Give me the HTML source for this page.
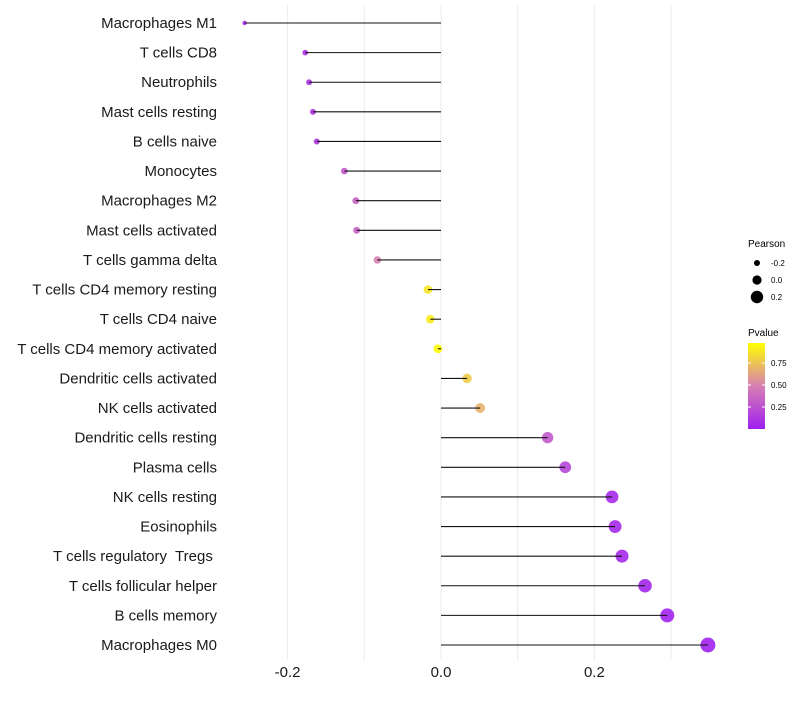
<!DOCTYPE html>
<html><head><meta charset="utf-8"><style>
body{margin:0;background:#fff;font-family:"Liberation Sans",sans-serif;}
svg text{font-family:"Liberation Sans",sans-serif;white-space:pre;}
</style></head><body>
<svg id="chart" width="800" height="700">
<defs><linearGradient id="pg" x1="0" y1="1" x2="0" y2="0">
<stop offset="0" stop-color="#A020F0"/><stop offset="0.5" stop-color="#D77FB3"/><stop offset="1" stop-color="#FFFF00"/>
</linearGradient></defs>
<g id="grid"></g><g id="pts"></g><g id="marks"></g><g id="labels"></g>
<g>
<text x="748" y="247" font-size="10">Pearson</text>
<circle cx="757" cy="263" r="3" fill="#000"/>
<text x="771" y="266" font-size="8">-0.2</text>
<circle cx="757" cy="280" r="4.6" fill="#000"/>
<text x="771" y="283" font-size="8">0.0</text>
<circle cx="757" cy="297" r="6.2" fill="#000"/>
<text x="771" y="300" font-size="8">0.2</text>
<text x="748" y="336" font-size="10">Pvalue</text>
<rect x="748" y="343" width="17" height="86" fill="url(#pg)"/>
<g stroke="#fff" stroke-width="1"><line x1="748" y1="363" x2="751" y2="363"/><line x1="762" y1="363" x2="765" y2="363"/><line x1="748" y1="385" x2="751" y2="385"/><line x1="762" y1="385" x2="765" y2="385"/><line x1="748" y1="407" x2="751" y2="407"/><line x1="762" y1="407" x2="765" y2="407"/></g>
<text x="771" y="366" font-size="8">0.75</text>
<text x="771" y="388" font-size="8">0.50</text>
<text x="771" y="410" font-size="8">0.25</text>
</g>
</svg>
<script>
const cells=["Macrophages M1","T cells CD8","Neutrophils","Mast cells resting","B cells naive","Monocytes","Macrophages M2","Mast cells activated","T cells gamma delta","T cells CD4 memory resting","T cells CD4 naive","T cells CD4 memory activated","Dendritic cells activated","NK cells activated","Dendritic cells resting","Plasma cells","NK cells resting","Eosinophils","T cells regulatory  Tregs ","T cells follicular helper","B cells memory","Macrophages M0"];
const pearson=[-0.256,-0.177,-0.172,-0.167,-0.162,-0.126,-0.111,-0.110,-0.083,-0.017,-0.014,-0.004,0.034,0.051,0.139,0.162,0.223,0.227,0.236,0.266,0.295,0.348];
const pvalue=[0.02,0.1,0.1,0.12,0.12,0.3,0.35,0.35,0.5,0.9,0.92,0.98,0.8,0.7,0.3,0.2,0.05,0.05,0.05,0.03,0.02,0.01];
const xTicks=[-0.2,0.0,0.2];
const xTickLabels=["-0.2","0.0","0.2"];
const xGrid=[-0.3,-0.2,-0.1,0,0.1,0.2,0.3];
const NS="http://www.w3.org/2000/svg";
const xs=v=>441+v*767;
const ys=i=>23+i*(622/(cells.length-1));
function mk(t,a,p){const e=document.createElementNS(NS,t);for(const k in a)e.setAttribute(k,a[k]);p.appendChild(e);return e;}
function hex(h){return[parseInt(h.slice(1,3),16),parseInt(h.slice(3,5),16),parseInt(h.slice(5,7),16)];}
const stops=[hex("#A020F0"),hex("#D77FB3"),hex("#FFFF00")];
function col(p){let t=Math.max(0,Math.min(1,p));let a,b,f;if(t<0.5){a=stops[0];b=stops[1];f=t/0.5;}else{a=stops[1];b=stops[2];f=(t-0.5)/0.5;}return"rgb("+a.map((c,i)=>Math.round(c+(b[i]-c)*f)).join(",")+")";}
const rs=v=>2.2+(v+0.256)/0.604*5.3;
const g=document.getElementById("grid"),p=document.getElementById("pts"),m=document.getElementById("marks"),l=document.getElementById("labels");
xGrid.forEach(v=>{const x=xs(v);if(x<232||x>735)return;const e=mk("line",{x1:x,x2:x,y1:5,y2:660,stroke:"#ebebeb","stroke-width":1},g);

});
xTicks.forEach((v,i)=>{const t=mk("text",{x:xs(v),y:677,"font-size":15,"text-anchor":"middle",fill:"#1a1a1a"},l);t.textContent=xTickLabels[i];

});
cells.forEach((c,i)=>{const y=ys(i);
const ci=mk("circle",{cx:xs(pearson[i]),cy:y,r:rs(pearson[i]),fill:col(pvalue[i]),"fill-opacity":0.9},p);


const ln=mk("line",{x1:xs(0),x2:xs(pearson[i]),y1:y,y2:y,stroke:"#111","stroke-width":1.1},m);


const t=mk("text",{x:217,y:y+5,"font-size":15,"text-anchor":"end",fill:"#1a1a1a"},l);t.textContent=c;

});
</script>
</body></html>
